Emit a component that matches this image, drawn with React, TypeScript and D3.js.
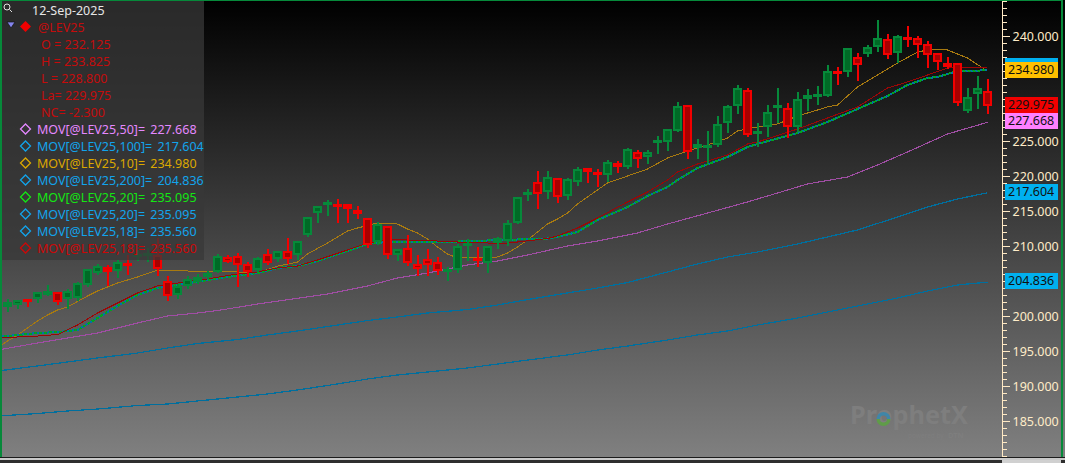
import { useEffect, useRef } from "react";
import * as d3 from "d3";

const width = 1065;
const height = 463;
const fontFamily = "'Noto Sans', sans-serif";

const opens = [
  201.29, 201.57, 202.36, 202.43, 203.07, 203.43, 202.43, 202.57, 204.43, 206.14,
  207.0, 206.43, 207.57, 208.57, 208.71, 208.71, 205.0, 203.0, 204.29, 204.86,
  205.57, 206.29, 208.43, 208.57, 207.43, 206.57, 208.86, 208.14, 209.29, 208.71,
  211.57, 214.71, 216.0, 216.0, 216.0, 215.14, 214.0, 210.57, 212.86, 208.71,
  209.71, 207.43, 208.14, 207.71, 206.57, 206.57, 210.29, 208.29, 207.57, 210.43,
  210.71, 213.29, 217.29, 219.14, 217.71, 219.71, 217.14, 219.14, 221.14, 220.57,
  220.14, 221.86, 221.29, 223.43, 222.71, 224.86, 224.86, 226.43, 230.14, 224.0,
  224.0, 224.43, 227.57, 230.0, 232.29, 226.14, 227.0, 229.71, 229.71, 227.0,
  231.0, 231.43, 231.43, 235.0, 234.86, 237.0, 237.43, 238.43, 239.57, 237.57,
  239.86, 239.71, 238.86, 237.57, 236.14, 236.14, 229.29, 231.71, 232.125,
];
const highs = [
  202.43, 202.29, 202.43, 203.43, 204.43, 203.43, 203.86, 204.86, 206.71, 207.43,
  207.29, 208.0, 208.71, 209.43, 209.71, 211.14, 205.71, 204.57, 205.71, 206.0,
  206.43, 208.86, 208.71, 209.0, 207.71, 208.43, 209.57, 209.29, 211.14, 210.71,
  214.14, 215.71, 216.57, 216.71, 216.0, 215.71, 214.0, 213.43, 212.86, 209.57,
  211.57, 208.71, 209.57, 208.43, 207.0, 210.29, 211.0, 209.86, 210.0, 211.29,
  213.71, 217.0, 218.14, 220.71, 220.71, 219.71, 219.71, 221.29, 221.14, 221.0,
  222.29, 222.14, 224.0, 223.71, 223.71, 225.71, 226.71, 230.57, 230.14, 225.29,
  226.43, 228.57, 230.14, 233.0, 232.57, 227.57, 230.14, 232.57, 230.43, 232.0,
  232.43, 232.86, 235.86, 235.57, 238.29, 237.57, 238.71, 242.29, 240.29, 240.14,
  241.43, 240.0, 239.29, 237.57, 237.0, 236.14, 232.57, 234.29, 233.825,
];
const lows = [
  200.57, 201.0, 201.29, 201.86, 202.86, 201.57, 201.0, 202.14, 204.14, 205.86,
  204.29, 205.43, 205.86, 207.86, 207.71, 205.71, 202.14, 202.43, 203.86, 204.57,
  205.29, 206.14, 207.57, 204.14, 205.57, 206.29, 207.29, 207.71, 207.43, 208.0,
  211.29, 213.29, 214.29, 213.29, 213.29, 213.86, 209.71, 210.14, 208.14, 207.86,
  207.14, 205.71, 205.71, 205.86, 205.0, 206.14, 207.86, 207.0, 206.14, 209.57,
  210.0, 213.14, 216.43, 215.29, 216.71, 216.14, 216.57, 218.57, 219.0, 218.43,
  219.14, 220.43, 221.0, 221.14, 221.71, 223.14, 223.57, 226.29, 222.43, 222.43,
  221.86, 224.14, 226.14, 228.86, 225.57, 224.14, 225.57, 227.57, 225.43, 226.29,
  229.29, 230.14, 231.29, 233.0, 234.14, 233.57, 237.0, 237.71, 236.71, 236.14,
  238.43, 236.86, 235.43, 235.14, 235.29, 230.0, 229.0, 229.57, 228.8,
];
const closes = [
  202.0, 202.29, 202.14, 203.43, 203.57, 202.0, 203.57, 204.71, 206.71, 207.14,
  206.29, 207.71, 207.29, 208.86, 209.0, 206.71, 202.86, 204.29, 205.29, 205.57,
  206.14, 208.57, 207.71, 207.29, 206.29, 208.29, 207.57, 209.29, 208.14, 210.71,
  214.14, 215.71, 216.29, 215.86, 215.29, 214.57, 210.14, 213.14, 208.71, 209.57,
  207.57, 206.71, 207.29, 206.43, 206.71, 210.0, 210.43, 208.14, 210.0, 211.14,
  213.29, 217.0, 217.71, 217.43, 219.86, 217.0, 219.57, 221.0, 220.57, 220.14,
  222.0, 221.29, 223.86, 222.43, 223.43, 225.14, 226.71, 230.0, 223.43, 224.57,
  224.43, 227.43, 230.0, 232.57, 225.86, 226.43, 229.14, 230.14, 227.0, 231.0,
  231.57, 231.71, 235.0, 234.86, 238.29, 235.86, 238.43, 239.71, 237.29, 240.0,
  239.71, 238.71, 237.29, 236.29, 235.57, 230.43, 231.29, 232.57, 229.975,
];

// [bar, value]
const ma10: [number, number][] = [
  [-1, 195.43], [0, 196.43], [1, 197.29], [3, 199.29], [4, 200.14], [5, 200.86], [6, 201.29], [8, 202.86],
  [9, 203.57], [11, 204.71], [13, 205.57], [15, 206.57], [17, 206.57], [19, 206.29], [23, 206.29], [25, 206.14],
  [27, 207.14], [29, 207.71], [30, 208.86], [32, 210.43], [33, 211.29], [34, 212.14], [35, 212.57], [37, 213.29],
  [39, 213.14], [40, 212.43], [41, 211.86], [42, 211.0], [43, 209.86], [44, 208.86], [45, 208.29], [47, 208.29],
  [49, 208.43], [50, 209.0], [51, 209.86], [52, 210.86], [54, 213.14], [55, 213.86], [56, 214.71], [57, 216.0],
  [59, 218.0], [60, 219.0], [62, 220.0], [64, 221.0], [66, 222.57], [68, 223.57], [70, 224.43], [72, 225.43],
  [73, 226.43], [75, 227.0], [77, 227.43], [79, 228.57], [82, 229.86], [83, 230.14], [85, 232.71], [87, 234.43],
  [89, 236.14], [91, 237.71], [92, 238.0], [93, 238.14], [94, 238.0], [96, 236.86], [98, 234.98],
];
const ma18: [number, number][] = [
  [-1, 196.86], [3, 197.14], [5, 197.35], [7, 198.71], [9, 200.43], [11, 201.86], [13, 203.29], [15, 204.29],
  [17, 204.71], [20, 205.29], [23, 206.0], [25, 206.29], [27, 206.86], [29, 207.14], [31, 208.0], [34, 209.43],
  [36, 210.43], [38, 210.86], [40, 210.86], [43, 210.71], [45, 210.57], [47, 210.57], [49, 210.29], [51, 210.57],
  [54, 211.07], [55, 211.43], [57, 212.57], [59, 214.0], [62, 216.29], [64, 217.71], [66, 219.43], [67, 220.57],
  [69, 221.71], [72, 223.0], [74, 224.57], [75, 224.86], [79, 226.71], [82, 228.29], [85, 229.86], [88, 232.57],
  [90, 233.43], [92, 234.43], [94, 235.43], [98, 235.56],
];
const ma20: [number, number][] = [
  [-1, 197.0], [3, 197.57], [5, 197.71], [7, 198.0], [9, 199.71], [11, 201.43], [13, 203.0], [15, 204.0],
  [17, 204.43], [20, 205.14], [23, 205.78], [25, 206.14], [27, 206.86], [29, 207.14], [31, 207.86], [34, 209.29],
  [36, 210.29], [38, 210.57], [43, 210.57], [47, 210.71], [49, 210.86], [51, 210.93], [54, 211.07], [55, 211.29],
  [57, 212.0], [59, 213.71], [62, 215.57], [64, 217.14], [66, 218.43], [67, 219.43], [69, 221.14], [72, 222.71],
  [74, 224.14], [75, 224.57], [79, 226.14], [82, 227.71], [85, 229.57], [88, 231.43], [90, 233.0], [92, 234.0],
  [93, 234.14], [94, 234.57], [95, 235.0], [98, 235.095],
];
const ma50: [number, number][] = [
  [-1, 195.14], [3, 196.14], [6, 196.86], [9, 197.57], [13, 199.0], [16, 200.0], [19, 200.43], [21, 200.78],
  [25, 201.71], [32, 203.14], [36, 204.29], [39, 205.43], [42, 206.14], [46, 207.29], [49, 207.86], [52, 208.71],
  [56, 210.0], [59, 210.71], [63, 211.86], [66, 213.14], [70, 214.71], [74, 216.29], [77, 217.57], [80, 218.86],
  [84, 219.86], [87, 221.57], [90, 223.43], [94, 226.0], [98, 227.668],
];
const ma100: [number, number][] = [
  [-1, 192.14], [3, 192.86], [6, 193.43], [9, 194.0], [13, 194.71], [16, 195.43], [19, 196.07], [23, 196.64],
  [26, 197.29], [29, 197.86], [33, 198.71], [36, 199.35], [39, 199.86], [42, 200.43], [46, 200.93], [49, 201.57],
  [52, 202.35], [56, 203.29], [59, 204.0], [62, 204.78], [66, 206.29], [69, 207.43], [72, 208.43], [75, 209.14],
  [79, 210.29], [82, 211.29], [85, 212.29], [89, 214.14], [92, 215.57], [95, 216.71], [98, 217.604],
];
const ma200: [number, number][] = [
  [-1, 185.71], [3, 186.07], [6, 186.43], [9, 186.71], [13, 187.21], [16, 187.43], [19, 187.86], [23, 188.43],
  [26, 188.86], [29, 189.43], [33, 190.29], [36, 191.0], [39, 191.57], [42, 192.0], [46, 192.57], [49, 193.14],
  [52, 193.71], [56, 194.43], [59, 195.14], [62, 195.71], [66, 196.57], [69, 197.29], [72, 197.86], [75, 198.71],
  [79, 199.71], [82, 200.57], [85, 201.43], [89, 202.57], [92, 203.57], [95, 204.43], [98, 204.836],
];

const ohlcLabels = ["O = 232.125", "H = 233.825", "L = 228.800", "La= 229.975", "NC= -2.300"];
const movLabels = [
  "MOV[@LEV25,50]= 227.668",
  "MOV[@LEV25,100]= 217.604",
  "MOV[@LEV25,10]= 234.980",
  "MOV[@LEV25,200]= 204.836",
  "MOV[@LEV25,20]= 235.095",
  "MOV[@LEV25,20]= 235.095",
  "MOV[@LEV25,18]= 235.560",
  "MOV[@LEV25,18]= 235.560",
];
const movColors = ["#e488ff", "#12a4ec", "#dca800", "#12a4ec", "#14e614", "#12a4ec", "#12a4ec", "#cc0808"];
// axis labels that sit behind a last value tag
const coveredTicks = [205, 230, 235];

const green = "#06893a";
const greenDark = "#006a26";
const red = "#f20000";
const redDark = "#a80000";

const App = () => {
  const svgRef = useRef<SVGSVGElement>(null);

  useEffect(() => {
    const svg = d3.select(svgRef.current);
    svg.selectAll("*").remove();

    const xScale = d3.scaleLinear().domain([-1, 98]).range([-2.5, 987.5]);
    const yScale = d3.scaleLinear().domain([180, 240]).range([456, 36]);

    const defs = svg.append("defs");
    const gradient = defs
      .append("linearGradient")
      .attr("id", "bg")
      .attr("x1", "0%")
      .attr("x2", "0%")
      .attr("y1", "0%")
      .attr("y2", "100%");
    gradient.append("stop").attr("offset", "0%").attr("stop-color", "#000000");
    gradient.append("stop").attr("offset", "100%").attr("stop-color", "#808080");
    defs
      .append("clipPath")
      .attr("id", "plot")
      .append("rect")
      .attr("x", 2)
      .attr("y", 2)
      .attr("width", 1000)
      .attr("height", 455);

    svg.append("rect").attr("width", width).attr("height", 458).attr("fill", "url(#bg)");

    // watermark
    const mark = svg.append("g").attr("font-family", fontFamily).attr("fill", "#7e7e7e");
    mark
      .append("text")
      .attr("x", 850)
      .attr("y", 424)
      .attr("font-size", 25)
      .attr("font-weight", 700)
      .attr("textLength", 118)
      .attr("lengthAdjust", "spacingAndGlyphs")
      .text("ProphetX");
    mark.append("text").attr("x", 908).attr("y", 438).attr("font-size", 6.5).text("powered by");
    mark
      .append("text")
      .attr("x", 948)
      .attr("y", 438)
      .attr("font-size", 7.5)
      .attr("font-weight", 700)
      .text("DTN");
    const ring = d3.arc().innerRadius(3.5).outerRadius(7);
    mark
      .append("path")
      .attr("transform", "translate(883.5,419)")
      .attr("d", ring({ startAngle: -Math.PI / 2, endAngle: Math.PI / 2 } as any) as string)
      .attr("fill", "#3f86a8");
    mark
      .append("path")
      .attr("transform", "translate(883.5,419)")
      .attr("d", ring({ startAngle: Math.PI / 2, endAngle: (3 * Math.PI) / 2 } as any) as string)
      .attr("fill", "#5f9c48");

    // moving averages
    const line = d3
      .line<[number, number]>()
      .x((d) => xScale(d[0]))
      .y((d) => yScale(d[1]));
    const lines = svg.append("g").attr("clip-path", "url(#plot)").attr("fill", "none");
    const series: [[number, number][], string, number, string?][] = [
      [ma200, "#006f9e", 1.25],
      [ma100, "#006f9e", 1.25],
      [ma50, "#a04ea4", 1.1],
      [ma10, "#a87a10", 1],
      [ma20, "#00a422", 2],
      [ma20, "#0072a8", 2, "2 3"],
      [ma18, "#0072a8", 1],
      [ma18, "#9c0606", 1],
    ];
    series.forEach(([data, color, w, dash]) => {
      lines
        .append("path")
        .datum(data)
        .attr("stroke", color)
        .attr("stroke-width", w)
        .attr("stroke-dasharray", dash ?? null)
        .attr("shape-rendering", "crispEdges")
        .attr("d", line);
    });

    // candles
    const candles = svg.append("g").attr("shape-rendering", "crispEdges");
    d3.range(opens.length).forEach((i) => {
      const up = closes[i] >= opens[i];
      const x = xScale(i);
      const top = yScale(Math.max(opens[i], closes[i]));
      const bottom = yScale(Math.min(opens[i], closes[i]));
      const bodyHeight = Math.max(bottom - top, 3);
      candles
        .append("rect")
        .attr("x", x - 0.5)
        .attr("width", 2)
        .attr("y", yScale(highs[i]))
        .attr("height", yScale(lows[i]) - yScale(highs[i]))
        .attr("fill", up ? green : red);
      candles
        .append("rect")
        .attr("x", x - 4.5)
        .attr("width", 9)
        .attr("y", top)
        .attr("height", bodyHeight)
        .attr("fill", up ? green : red);
      if (bodyHeight >= 5) {
        candles
          .append("rect")
          .attr("x", x - 2.5)
          .attr("width", 5)
          .attr("y", top + 2)
          .attr("height", bodyHeight - 4)
          .attr("fill", up ? greenDark : redDark);
      }
    });

    // price axis
    const axisColor = "#ffe9c4";
    const minorAxis = d3
      .axisRight(yScale)
      .tickValues(d3.range(180, 246))
      .tickSize(4)
      .tickFormat(() => "");
    const majorAxis = d3
      .axisRight(yScale)
      .tickValues(d3.range(185, 241, 5))
      .tickSize(7)
      .tickPadding(3)
      .tickFormat((d) => (coveredTicks.includes(+d) ? "" : d3.format(".3f")(+d)));
    const axisMinor = svg.append("g").attr("transform", "translate(1002.5,0)").call(minorAxis);
    const axisMajor = svg.append("g").attr("transform", "translate(1002.5,0)").call(majorAxis);
    [axisMinor, axisMajor].forEach((g) => {
      g.selectAll("line").attr("stroke", axisColor).attr("shape-rendering", "crispEdges");
      g.select(".domain").remove();
    });
    axisMajor
      .selectAll("text")
      .attr("fill", "#ffecc8")
      .attr("font-family", fontFamily)
      .attr("font-size", 12.5);
    svg
      .append("line")
      .attr("x1", 1002.5)
      .attr("x2", 1002.5)
      .attr("y1", 0)
      .attr("y2", 458)
      .attr("stroke", axisColor);

    // last value tags
    const tags: [number, string, boolean][] = [
      [235.56, "#00b0f0", false],
      [234.98, "#ffc000", true],
      [229.975, "#f00000", true],
      [227.668, "#ff80ff", true],
      [217.604, "#00b0f0", true],
      [204.836, "#00b0f0", true],
    ];
    tags.forEach(([value, color, labelled]) => {
      const y = yScale(value);
      svg
        .append("rect")
        .attr("x", 1005)
        .attr("y", Math.round(y) - 9)
        .attr("width", 53)
        .attr("height", 16)
        .attr("fill", color);
      if (labelled) {
        svg
          .append("text")
          .attr("x", 1008)
          .attr("y", Math.round(y) - 1)
          .attr("dy", "0.32em")
          .attr("font-family", fontFamily)
          .attr("font-size", 12.5)
          .attr("fill", "#101010")
          .text(d3.format(".3f")(value));
      }
    });

    // legend panel
    svg
      .append("rect")
      .attr("x", 1)
      .attr("y", 1)
      .attr("width", 203)
      .attr("height", 259)
      .attr("fill", "rgba(56,56,56,0.75)");
    const legend = svg.append("g").attr("font-family", fontFamily).attr("font-size", 12.5);
    legend
      .append("text")
      .attr("x", 32)
      .attr("y", 15)
      .attr("fill", "#e6e6e6")
      .text("12-Sep-2025");
    legend
      .append("circle")
      .attr("cx", 7)
      .attr("cy", 7)
      .attr("r", 3)
      .attr("fill", "none")
      .attr("stroke", "#e0e0e0");
    legend
      .append("line")
      .attr("x1", 9.5)
      .attr("y1", 9.5)
      .attr("x2", 12)
      .attr("y2", 12)
      .attr("stroke", "#e0e0e0");
    legend
      .append("path")
      .attr("d", "M7,22H15L11,28Z")
      .attr("fill", "#8484ec")
      .attr("stroke", "#111111")
      .attr("stroke-width", 0.7);
    legend
      .append("path")
      .attr("d", "M25.5,21L31,26.5L25.5,32L20,26.5Z")
      .attr("fill", "#f00000");
    legend.append("text").attr("x", 38).attr("y", 32).attr("fill", "#c40c0c").text("@LEV25");
    ohlcLabels.forEach((label, i) => {
      legend
        .append("text")
        .attr("x", 41)
        .attr("y", 49 + i * 17)
        .attr("fill", "#c40c0c")
        .text(label);
    });
    movLabels.forEach((label, i) => {
      const y = 129 + i * 17;
      legend
        .append("path")
        .attr("d", `M25.5,${y - 5}L30.5,${y}L25.5,${y + 5}L20.5,${y}Z`)
        .attr("fill", "none")
        .attr("stroke", movColors[i])
        .attr("stroke-width", 1.3);
      legend
        .append("text")
        .attr("x", 37)
        .attr("y", y + 5)
        .attr("word-spacing", 2)
        .attr("fill", movColors[i])
        .text(label);
    });

    // window frame
    const frame = svg.append("g").attr("shape-rendering", "crispEdges");
    frame.append("rect").attr("width", 1063).attr("height", 1).attr("fill", green);
    frame.append("rect").attr("width", 1.5).attr("height", 458).attr("fill", green);
    frame.append("rect").attr("x", 1061).attr("width", 2).attr("height", 458).attr("fill", green);
    frame.append("rect").attr("y", 457).attr("width", width).attr("height", 1).attr("fill", "#1c1c1c");
    frame.append("rect").attr("y", 458).attr("width", width).attr("height", 2).attr("fill", "#c8c8c8");
    frame.append("rect").attr("y", 460).attr("width", width).attr("height", 3).attr("fill", "#2e2e2e");
    frame.append("rect").attr("x", 1002).attr("y", 460).attr("width", 59).attr("height", 3).attr("fill", "#d0d0d0");
  }, []);

  return (
    <svg
      ref={svgRef}
      width={width}
      height={height}
      viewBox={`0 0 ${width} ${height}`}
      style={{ position: "absolute", left: 0, top: 0, display: "block" }}
    ></svg>
  );
};

export default App;
